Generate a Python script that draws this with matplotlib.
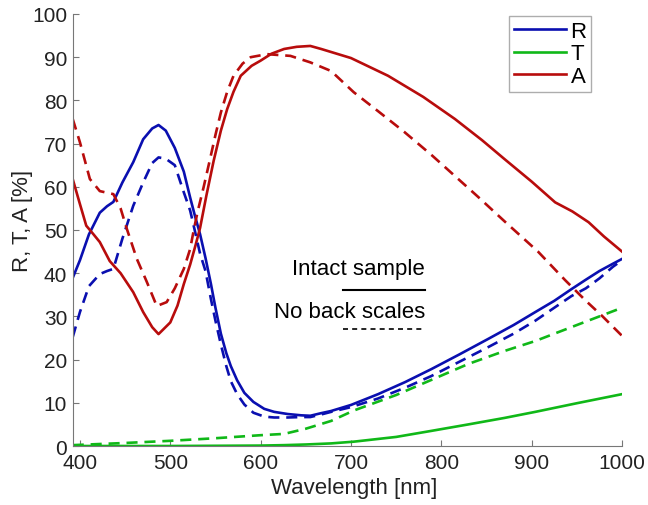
import matplotlib
matplotlib.use("Agg")
import matplotlib.pyplot as plt

# ---- data (wavelength in nm, values in %) ----
r_wl = [392, 400, 410, 422, 430, 437, 447, 459, 470, 480, 487, 495, 505, 515, 522, 527,
        533, 539, 545, 550, 556, 562, 567, 574, 582, 592, 604, 615, 630, 645, 655, 667,
        678, 700, 730, 760, 789, 820, 852, 880, 904, 925, 944, 960, 975, 990, 1000]
r_int = [38.9, 43, 49, 54, 55.5, 56.5, 61, 65.7, 71, 73.5, 74.3, 73, 69, 63.5, 57.5, 53.5,
         49, 43.5, 37.5, 32, 26, 21.5, 18.5, 15.2, 12.3, 10.2, 8.6, 7.9, 7.4, 7.1, 7.0, 7.6,
         8.1, 9.5, 12, 14.8, 17.8, 21.2, 24.8, 28, 31, 33.6, 36.3, 38.5, 40.5, 42.2, 43.3]
r_nbs = [25.2, 31, 37, 39.8, 40.5, 41, 48, 55.6, 61, 65.5, 66.8, 66.5, 65, 58.7, 54.5, 50,
         44.5, 40.5, 34, 29, 23.5, 18.5, 15, 12, 9.6, 7.7, 6.8, 6.6, 6.6, 6.7, 6.7, 7.3,
         7.9, 9, 11, 13.5, 16.2, 19.5, 22.9, 26, 29, 32, 34.7, 36.5, 38.8, 41.5, 43]

t_wl = [392, 450, 500, 550, 600, 626, 650, 678, 703, 750, 789, 830, 870, 904, 950, 1000]
t_int = [0.0, 0.0, 0.0, 0.05, 0.1, 0.2, 0.35, 0.6, 1.0, 2.1, 3.5, 5.0, 6.5, 7.9, 9.9, 12.0]
t_nbs = [0.2, 0.7, 1.2, 1.8, 2.5, 2.8, 4.0, 5.8, 8.2, 11.8, 15.3, 19.0, 22.0, 24.3, 28.0, 32.0]

a_wl_int = [392, 400, 407, 415, 422, 433, 445, 459, 470, 480, 487, 500, 508, 515, 522,
            528, 533, 540, 548, 556, 563, 570, 578, 590, 600, 612, 626, 640, 655, 667,
            700, 741, 780, 815, 845, 870, 900, 926, 945, 963, 980, 1000]
a_int = [61.8, 56, 51, 49, 47.2, 42.8, 40, 35.6, 31, 27.5, 25.9, 28.6, 32.5, 37.5, 42,
         46.5, 50.5, 58, 66, 73, 78, 82, 85.7, 88, 89.2, 90.8, 91.9, 92.4, 92.6, 91.9,
         89.8, 85.7, 80.8, 75.7, 70.8, 66.4, 61.2, 56.4, 54.3, 51.8, 48.5, 45.0]
a_wl_nbs = [392, 400, 411, 422, 437, 445, 452, 463, 474, 485, 496, 505, 515, 522, 526,
            530, 537, 544, 550, 556, 563, 570, 580, 589, 607, 633, 655, 678, 703, 730,
            759, 790, 815, 840, 870, 907, 937, 960, 978, 1000]
a_nbs = [75.7, 70.3, 61.8, 59, 58.3, 55, 50.2, 43.3, 38, 32.4, 33.3, 36.5, 41, 45.6, 50,
         54, 60, 66.4, 72, 77.2, 82, 85.7, 88.5, 90, 90.7, 90.3, 88.8, 86.8, 81.9, 77.5,
         72.7, 67.2, 62.5, 57.8, 52, 45, 38.4, 33.6, 30.1, 25.5]

blue = "#0a0fb0"
green = "#10b818"
red = "#b80c0c"

plt.rcParams["font.family"] = ["Liberation Sans", "DejaVu Sans"]
plt.rcParams["font.size"] = 16

fig = plt.figure(figsize=(6.48, 5.06), dpi=100)
ax = fig.add_axes([0.1122, 0.1166, 0.8477, 0.8538])

lw = 1.9
dash = (0, (4.2, 2.6))
ax.plot(r_wl, r_int, color=blue, lw=lw, label="R")
ax.plot(t_wl, t_int, color=green, lw=lw, label="T")
ax.plot(a_wl_int, a_int, color=red, lw=lw, label="A")
ax.plot(r_wl, r_nbs, color=blue, lw=lw, ls=dash)
ax.plot(t_wl, t_nbs, color=green, lw=lw, ls=dash)
ax.plot(a_wl_nbs, a_nbs, color=red, lw=lw, ls=dash)

ax.set_xlim(392, 1000)
ax.set_ylim(0, 100)
ax.set_xticks(range(400, 1001, 100))
ax.set_yticks(range(0, 101, 10))
ax.set_xlabel("Wavelength [nm]", color="#222222", va="center")
ax.set_ylabel("R, T, A [%]", color="#222222", va="center")
ax.xaxis.set_label_coords(0.513, -0.095)
ax.yaxis.set_label_coords(-0.0905, 0.523)

for side in ["top", "right"]:
    ax.spines[side].set_visible(False)
for side in ["left", "bottom"]:
    ax.spines[side].set_color("#777777")
ax.tick_params(direction="in", length=4, color="#777777", labelcolor="#222222",
               labelsize=15)
ax.tick_params(axis="x", pad=5)
ax.tick_params(axis="y", pad=4)

# line style key drawn as text + short lines
ax.text(0.641, 0.41, "Intact sample", transform=ax.transAxes, ha="right", va="center")
ax.plot([0.492, 0.641], [0.361, 0.361], transform=ax.transAxes, color="black", lw=1.5)
ax.text(0.641, 0.312, "No back scales", transform=ax.transAxes, ha="right", va="center")
ax.plot([0.492, 0.641], [0.271, 0.271], transform=ax.transAxes, color="black", lw=1.2,
        ls=(0, (3, 2.5)))

leg = ax.legend(loc="upper right", bbox_to_anchor=(0.9436, 0.995), frameon=True,
                fancybox=False, handlelength=2.35, handletextpad=0.2, labelspacing=0.08,
                borderpad=0.2, borderaxespad=0)
leg.get_frame().set_edgecolor("#999999")
leg.get_frame().set_linewidth(1.0)

fig.savefig("out.png", dpi=100)
